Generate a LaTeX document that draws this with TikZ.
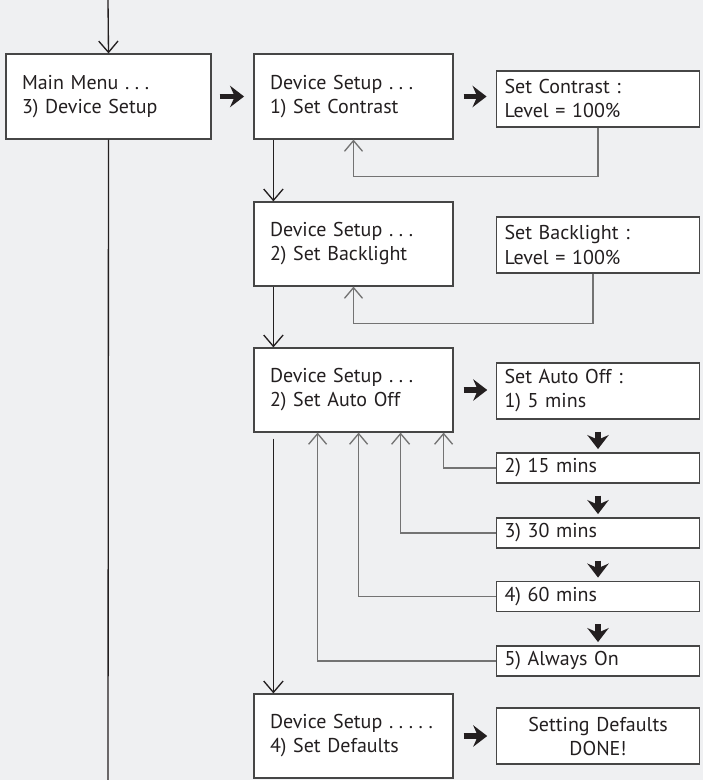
\documentclass[tikz,border=0pt]{standalone}
\usepackage{fontspec}
\setmainfont{PT Sans}
\usetikzlibrary{arrows.meta}

\definecolor{bgcol}{RGB}{239,240,242}
\definecolor{boxline}{RGB}{70,70,70}
\definecolor{backline}{RGB}{115,115,115}
\definecolor{inkblack}{RGB}{35,31,32}

\newcommand{\mdots}{~.\kern4.2pt.\kern4.2pt.}
\newcommand{\longdots}{\mdots\kern4.2pt.\kern4.2pt.}

\tikzstyle{menubox} = [rectangle, draw=boxline, line width=0.9pt, fill=white,
  text width=125.25pt, inner xsep=12pt, inner ysep=2pt, minimum height=63pt,
  align=left, text=inkblack, font=\fontsize{15}{18}\selectfont]
\tikzstyle{setbox} = [menubox, text width=140.25pt, inner xsep=6pt, minimum height=42pt]
\tikzstyle{optbox} = [setbox, minimum height=22.5pt]
\tikzstyle{flow} = [draw=inkblack, line width=1pt, -{Straight Barb[length=8.5pt,width=14.5pt]}]
\tikzstyle{back} = [draw=backline, line width=1pt, -{Straight Barb[length=8pt,width=13.5pt]}]
\tikzstyle{bigarrow} = [draw=inkblack, line width=4.2pt, -{Stealth[length=10.5pt,width=16pt,inset=3.5pt]}]

\begin{document}
\begin{tikzpicture}[x=0.75pt, y=-0.75pt]
  \fill[bgcol] (0,0) rectangle (703,780);
  \useasboundingbox (0,0) rectangle (703,780);

  % left column
  \coordinate (top) at (108,0);
  \coordinate (bottom) at (108,780);
  \node[menubox, text width=129.75pt, minimum height=63.75pt] (main) at (108.5,96.5)
    {Main Menu\mdots\\3) Device Setup};

  % device setup menus
  \node[menubox, minimum height=63.75pt] (ds1) at (353.5,96.5) {Device Setup\mdots\\1) Set Contrast};
  \node[menubox] (ds2) at (353.5,244) {Device Setup\mdots\\2) Set Backlight};
  \node[menubox] (ds3) at (353.5,390) {Device Setup\mdots\\2) Set Auto Off};
  \node[menubox] (ds4) at (353.5,736) {Device Setup\longdots\\4) Set Defaults};

  % settings
  \node[setbox] (contrast) at (598,99) {Set Contrast :\\Level = 100\%};
  \node[setbox] (backlight) at (598,245) {Set Backlight :\\Level = 100\%};
  \node[setbox] (autooff) at (598,391) {Set Auto Off :\\1) 5 mins};
  \node[optbox] (m15) at (598,468) {2) 15 mins};
  \node[optbox] (m30) at (598,533) {3) 30 mins};
  \node[optbox] (m60) at (598,596.5) {4) 60 mins};
  \node[optbox] (always) at (598,661) {5) Always On};
  \node[setbox, align=center] (defaults) at (598,736) {Setting Defaults\\DONE!};

  % main flow
  \draw[flow] (top) -- (main.north);
  \draw[draw=inkblack, line width=1pt] (main.south) -- (bottom);
  \draw[flow] ([xshift=15pt]ds1.south west) -- ([xshift=15pt]ds2.north west);
  \draw[flow] ([xshift=15pt]ds2.south west) -- ([xshift=15pt]ds3.north west);
  \draw[flow] ([xshift=15pt,yshift=-4.5pt]ds3.south west) -- ([xshift=15pt]ds4.north west);

  % enter arrows
  \draw[bigarrow, shorten <=6pt, shorten >=7pt] (main.east) -- (ds1.west);
  \draw[bigarrow, shorten <=7.5pt, shorten >=7pt] (ds1.east) -- (ds1.east -| contrast.west);
  \draw[bigarrow, shorten <=7.5pt, shorten >=6.5pt] (ds3.east) -- (ds3.east -| autooff.west);
  \draw[bigarrow, shorten <=7.5pt, shorten >=6.5pt] (ds4.east) -- (defaults.west);
  \foreach \a/\b in {autooff/m15, m15/m30, m30/m60, m60/always}
    \draw[bigarrow, shorten <=9pt, shorten >=2.5pt] (\a.south) -- (\b.north);

  % returns
  \draw[back] (contrast.south) -- ++(0,49) -| (ds1.south);
  \draw[back] ([xshift=-3.75pt]backlight.south) -- ++(0,50) -| (ds2.south);
  \draw[back] (m15.west) -| ([xshift=-7.5pt]ds3.south east);
  \draw[back] (m30.west) -| ([xshift=-39.75pt]ds3.south east);
  \draw[back] (m60.west) -| ([xshift=-71.25pt]ds3.south east);
  \draw[back] (always.west) -| ([xshift=-102pt]ds3.south east);
\end{tikzpicture}
\end{document}
